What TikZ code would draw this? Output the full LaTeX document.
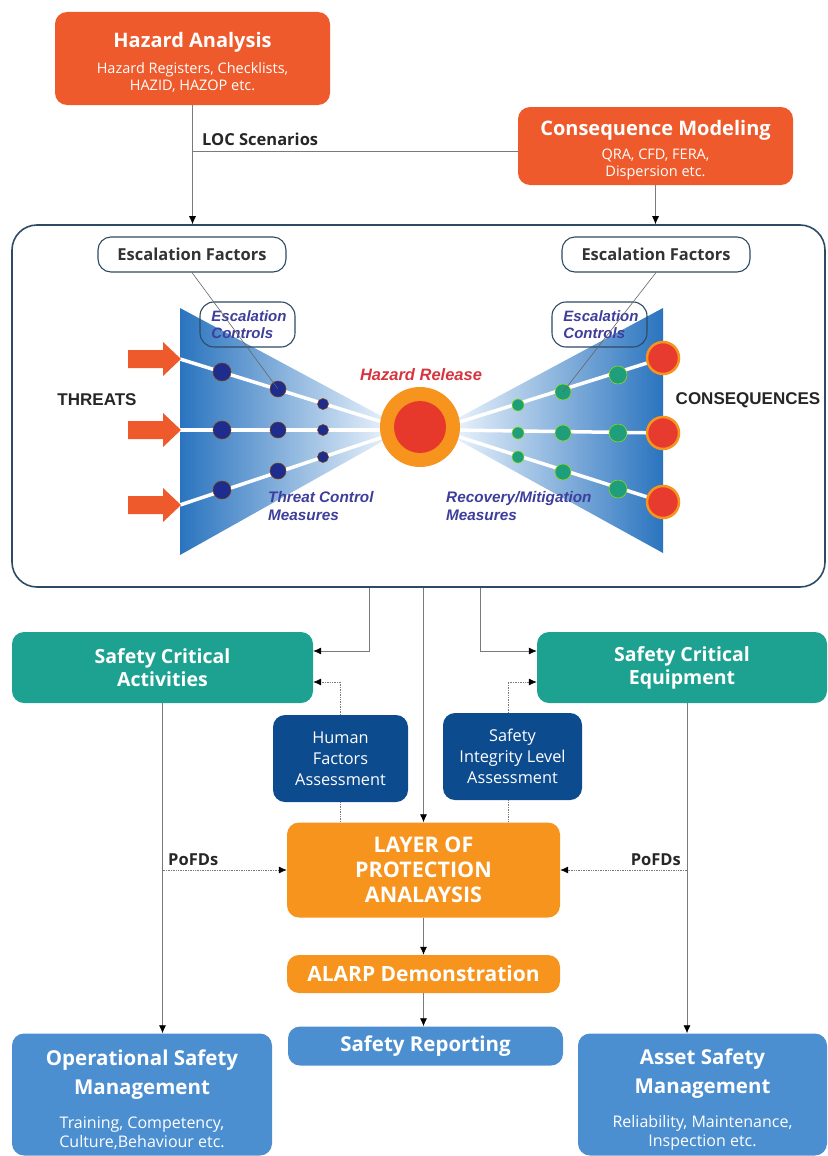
\documentclass[tikz,border=0pt]{standalone}
\usepackage{fontspec}
\setmainfont{Open Sans}
\newfontfamily\arialf{Liberation Sans}
\usetikzlibrary{arrows.meta,calc}
\definecolor{hazred}{HTML}{EE5A2B}
\definecolor{teal1}{HTML}{1DA291}
\definecolor{navy1}{HTML}{0D4B8F}
\definecolor{orng}{HTML}{F7941D}
\definecolor{lblue}{HTML}{4C8FD1}
\definecolor{frame1}{HTML}{2E4B66}
\definecolor{wedgeL}{HTML}{2A74BF}
\definecolor{wedgeR}{HTML}{E6F0FA}
\definecolor{dotblue}{HTML}{1E2C8E}
\definecolor{dotgreen}{HTML}{1F9E7C}
\definecolor{conred}{HTML}{E63B2E}
\definecolor{ital}{HTML}{3E3E9C}
\definecolor{hrred}{HTML}{D8343F}
\definecolor{linegray}{HTML}{7A7A7A}
\newcommand\tsz[2]{\fontsize{#1}{#2}\selectfont}
\tikzset{
  fbox/.style={rounded corners=12pt, align=center, text=white, inner sep=0pt},
  efbox/.style={rounded corners=13pt, draw=frame1, line width=1.1pt, fill=white, align=center, text=black!80, inner sep=0pt, minimum width=188pt, minimum height=35pt, font=\tsz{16.5}{18}\bfseries},
  ecbox/.style={rounded corners=14pt, draw=frame1, line width=1.1pt, align=left, text=ital, inner sep=0pt, minimum width=95pt, minimum height=45pt, font=\arialf\bfseries\itshape\tsz{15}{17}},
  conn/.style={draw=linegray, line width=0.7pt, -{Latex[length=8pt,width=7pt,color=black]}},
  dconn/.style={draw=linegray, line width=0.7pt, densely dotted, -{Latex[length=8pt,width=7pt,color=black]}},
  dline/.style={draw=linegray, line width=0.7pt, densely dotted},
  sline/.style={draw=linegray, line width=0.7pt},
  lbl/.style={font=\tsz{16.5}{18}\bfseries, text=black!85, inner sep=0pt},
  itl/.style={font=\arialf\bfseries\itshape\tsz{15.3}{18}, text=ital, align=left, inner sep=0pt, anchor=west},
  bigl/.style={font=\arialf\bfseries\tsz{17}{19}, text=black!85, inner sep=0pt},
  white line/.style={white, line width=3.5pt},
  tarrow/.style={fill=hazred, draw=none},
  ldot/.style={fill=dotblue, draw=black!50!orange, line width=0.5pt},
  gdot/.style={fill=dotgreen, draw=black!30!green!40!yellow, line width=0.5pt},
  cdot/.style={fill=conred, draw=orng, line width=2.5pt}
}
\begin{document}
\begin{tikzpicture}[x=1pt,y=-1pt]
\useasboundingbox (0,0) rectangle (827,1156);
% top boxes
\node[fbox, fill=hazred, minimum width=275pt, minimum height=93pt, font=\tsz{14.5}{17}] (ha) at (192.5,58.5)
  {\rule{0pt}{23pt}\tsz{20}{22}\bfseries Hazard Analysis\\[9pt]\tsz{14.5}{17}\mdseries Hazard Registers, Checklists,\\\tsz{14.5}{17}\mdseries HAZID, HAZOP etc.};
\node[fbox, fill=hazred, minimum width=275pt, minimum height=78pt, font=\tsz{14.5}{17}] (cm) at (655.5,146)
  {\rule{0pt}{23pt}\tsz{20}{22}\bfseries Consequence Modeling\\[7pt]\tsz{14.5}{17}\mdseries QRA, CFD, FERA,\\\tsz{14.5}{17}\mdseries Dispersion etc.};
% main frame
\node[draw=frame1, line width=1.6pt, rounded corners=25pt, fill=white, minimum width=813pt, minimum height=362pt, inner sep=0pt] (main) at (418.5,406) {};
% top connectors
\coordinate (loc) at (192.5,151);
\draw[sline] (loc) -- (cm.west |- loc);
\draw[conn] (ha.south) -- (ha.south |- main.north);
\draw[conn] (cm.south) -- (cm.south |- main.north);
\node[lbl, anchor=south west] (loclbl) at (202,146) {LOC Scenarios};
% wedges
\shade[left color=wedgeL, right color=wedgeR] (180,308) -- (385,418) -- (385,440) -- (180,555) -- cycle;
\shade[left color=wedgeR, right color=wedgeL] (663,308) -- (663,553) -- (458,440) -- (458,418) -- cycle;
% white lines
\draw[white line] (180,359) -- (392,425);
\draw[white line] (180,430) -- (392,430);
\draw[white line] (180,505) -- (392,434);
\draw[white line] (450,425) -- (663,358);
\draw[white line] (450,430) -- (663,433);
\draw[white line] (450,434) -- (663,502);
% threat arrows
\foreach \c in {359,430,505}{
  \fill[tarrow] (128,\c-9) -- (163,\c-9) -- (163,\c-17) -- (181,\c) -- (163,\c+17) -- (163,\c+9) -- (128,\c+9) -- cycle;
}
% left dots
\foreach \p/\r in {{222,372}/9,{278,389}/8,{323,404}/5.5,{222,430}/9,{278,430}/8,{323,430}/5.5,{222,490}/9,{278,471}/8,{323,457}/5.5}{
  \filldraw[ldot] (\p) circle (\r);
}
% right dots
\foreach \p/\r in {{518,405}/6,{563,392}/8,{618,375}/9,{518,433}/6,{563,433}/8,{618,433}/9,{518,457}/6,{563,472}/8,{618,489}/9}{
  \filldraw[gdot] (\p) circle (\r);
}
\foreach \p in {{663,358},{663,433},{663,502}}{
  \filldraw[cdot] (\p) circle (16);
}
% hazard release
\fill[orng] (420,427) circle (40);
\fill[conred!95!red] (420,427) circle (26);
\node[font=\arialf\bfseries\itshape\tsz{16.5}{18}, text=hrred, inner sep=0pt] (hrlbl) at (421,375) {Hazard Release};
% escalation factors & controls
\node[efbox] (ef1) at (192,254.5) {Escalation Factors};
\node[efbox] (ef2) at (656,254.5) {Escalation Factors};
\node[ecbox] (ec1) at (247.5,324.5) {\hspace*{3pt}Escalation\\\hspace*{3pt}Controls};
\node[ecbox] (ec2) at (599.5,324.5) {\hspace*{3pt}Escalation\\\hspace*{3pt}Controls};
\coordinate (d1) at (278,389);
\coordinate (d2) at (563,392);
\draw[draw=black!60, line width=0.6pt] (ef1.south) -- (d1);
\draw[draw=black!60, line width=0.6pt] (ef2.south) -- (d2);
% labels in bowtie
\node[bigl] (thr) at (97,400) {THREATS};
\node[bigl] (cons) at (748,400) {CONSEQUENCES};
\node[itl] (tcm) at (268,506) {Threat Control\\Measures};
\node[itl] (rmm) at (446,506) {Recovery/Mitigation\\Measures};
% lower boxes
\node[fbox, fill=teal1, minimum width=301pt, minimum height=71pt, font=\tsz{19.5}{23}\bfseries] (sca) at (162.5,667.5) {Safety Critical\\Activities};
\node[fbox, fill=teal1, minimum width=290pt, minimum height=71pt, font=\tsz{19.5}{23}\bfseries] (sce) at (682,667.5) {Safety Critical\\Equipment};
\node[fbox, fill=navy1, minimum width=135pt, minimum height=87pt, font=\tsz{16.3}{21}] (hfa) at (340.5,758.5) {Human\\Factors\\Assessment};
\node[fbox, fill=navy1, minimum width=139pt, minimum height=87pt, font=\tsz{16.3}{21}] (sil) at (512.5,756.5) {Safety\\Integrity Level\\Assessment};
\node[fbox, fill=orng, minimum width=273pt, minimum height=95pt, font=\tsz{21.5}{25}\bfseries] (lopa) at (423.5,870) {LAYER OF\\PROTECTION\\ANALAYSIS};
\node[fbox, fill=orng, minimum width=273pt, minimum height=38pt, font=\tsz{21}{23}\bfseries] (alarp) at (423.5,974) {ALARP Demonstration};
\node[fbox, fill=lblue, minimum width=275pt, minimum height=39pt, font=\tsz{20.5}{23}\bfseries] (sr) at (425.5,1046) {Safety Reporting};
\node[fbox, fill=lblue, minimum width=260pt, minimum height=122pt, font=\tsz{16}{19}] (osm) at (142,1094.5)
  {\rule{0pt}{26pt}\tsz{20.5}{27}\bfseries Operational Safety\\[8pt]\tsz{20.5}{27}\bfseries Management\\[15pt]\tsz{16}{19}\mdseries Training, Competency,\\\tsz{16}{19}\mdseries Culture,Behaviour etc.};
\node[fbox, fill=lblue, minimum width=249pt, minimum height=122pt, font=\tsz{16}{19}] (asm) at (702.5,1094.5)
  {\rule{0pt}{26pt}\tsz{20.5}{27}\bfseries Asset Safety\\[8pt]\tsz{20.5}{27}\bfseries Management\\[15pt]\tsz{16}{19}\mdseries Reliability, Maintenance,\\\tsz{16}{19}\mdseries Inspection etc.};
% lower connectors
\draw[conn] (main.south -| 369,0) |- (sca.east |- 0,651);
\draw[conn] (main.south -| 423.5,0) -- (lopa.north);
\draw[conn] (main.south -| 480,0) |- (sce.west |- 0,651);
\draw[dconn] (hfa.north) |- (sca.east |- 0,682);
\draw[dconn] (sil.north -| 508,0) |- (sce.west |- 0,682);
\draw[dline] (hfa.south) -- (hfa.south |- lopa.north);
\draw[dline] (sil.south -| 508,0) -- (lopa.north -| 508,0);
\draw[conn] (sca.south) -- (sca.south |- osm.north);
\draw[conn] (sce.south -| 687,0) -- (asm.north -| 687,0);
\draw[dconn] (sca.south |- 0,870) -- (lopa.west);
\draw[dconn] (687,870) -- (lopa.east);
\node[lbl, anchor=south west] (pf1) at (168,866) {PoFDs};
\node[lbl, anchor=south east] (pf2) at (681,866) {PoFDs};
\draw[conn] (lopa.south) -- (alarp.north);
\draw[conn] (alarp.south) -- (alarp.south |- sr.north);
\end{tikzpicture}
\end{document}
